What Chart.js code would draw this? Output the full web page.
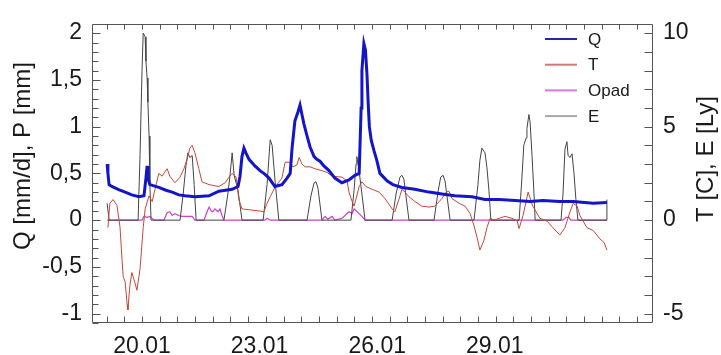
<!DOCTYPE html>
<html>
<head>
<meta charset="utf-8">
<script src="https://cdn.jsdelivr.net/npm/chart.js@4.4.0/dist/chart.umd.min.js"></script>
<style>
  html, body { margin: 0; padding: 0; background: #fff; }
  #wrap { width: 721px; height: 355px; }
</style>
</head>
<body>
<div id="wrap"><canvas id="myChart" width="721" height="355"></canvas></div>
<script>
//////////////////////////////
/////////Data to Chart////////
//////////////////////////////

// x axis is in days (20 = 20.01)
var xLabelDays = [20, 23, 26, 29];
var xLabelText = ['20.01', '23.01', '26.01', '29.01'];
var leftTicks = [-1, -0.5, 0, 0.5, 1, 1.5, 2];
var rightTicks = [-5, 0, 5, 10];

// Q [mm/d] - left axis
var qDay = [19.11,19.13,19.16,19.23,19.39,19.57,19.74,19.92,20.05,20.10,20.13,20.15,20.20,20.43,20.61,20.77,20.94,21.10,21.35,21.71,21.96,22.30,22.45,22.50,22.55,22.60,22.65,22.73,22.88,23.01,23.14,23.24,23.39,23.57,23.70,23.78,23.83,23.90,23.98,24.03,24.08,24.13,24.21,24.29,24.39,24.46,24.54,24.64,24.77,24.92,25.10,25.28,25.43,25.54,25.59,25.61,25.66,25.70,25.74,25.77,25.80,25.85,25.92,25.99,26.07,26.25,26.40,26.63,26.96,27.32,27.65,27.98,28.42,28.75,29.11,29.52,29.90,30.23,30.66,31.00,31.51,31.86];
var qVal = [0.60,0.50,0.38,0.36,0.33,0.30,0.27,0.25,0.26,0.45,0.58,0.45,0.38,0.35,0.32,0.30,0.27,0.26,0.25,0.26,0.31,0.33,0.36,0.47,0.68,0.77,0.72,0.65,0.58,0.53,0.49,0.45,0.36,0.38,0.45,0.50,0.78,1.06,1.16,1.23,1.13,1.03,0.90,0.78,0.68,0.65,0.63,0.58,0.53,0.45,0.40,0.43,0.48,0.50,1.20,1.60,1.89,1.82,1.55,1.25,1.00,0.85,0.74,0.64,0.50,0.42,0.38,0.35,0.33,0.30,0.28,0.26,0.25,0.22,0.22,0.21,0.20,0.21,0.20,0.20,0.18,0.19];

// T [C] - right axis
var tDay = [19.13,19.18,19.26,19.36,19.44,19.49,19.52,19.57,19.62,19.64,19.69,19.74,19.82,19.87,19.95,20.03,20.08,20.18,20.26,20.33,20.43,20.51,20.64,20.71,20.84,20.97,21.07,21.15,21.22,21.28,21.35,21.45,21.53,21.71,21.96,22.12,22.22,22.30,22.40,22.47,22.55,22.76,22.96,23.11,23.19,23.27,23.39,23.57,23.65,23.75,23.85,23.95,24.01,24.08,24.16,24.29,24.41,24.59,24.72,24.85,25.10,25.23,25.28,25.36,25.41,25.48,25.54,25.61,25.71,25.87,26.05,26.20,26.38,26.45,26.56,26.63,26.71,26.81,26.96,27.14,27.32,27.47,27.65,27.76,27.83,27.91,28.09,28.24,28.37,28.47,28.55,28.62,28.72,28.80,28.88,28.98,29.11,29.26,29.44,29.57,29.62,29.72,29.85,29.97,30.15,30.33,30.48,30.66,30.79,30.92,31.00,31.10,31.17,31.35,31.51,31.68,31.79,31.86];
var tVal = [-0.4,0.9,1.1,0.8,-0.4,-2.1,-3.0,-3.3,-4.5,-4.8,-3.5,-2.8,-3.35,-3.75,-2.6,-0.4,0.6,1.3,1.0,1.65,2.5,2.35,2.75,2.35,2.0,2.3,2.75,3.25,3.85,4.0,3.6,2.75,2.05,1.9,1.8,2.0,2.3,2.5,2.3,1.1,0.6,0.55,0.5,0.45,0.9,1.25,1.75,2.25,3.1,3.1,2.85,2.95,3.35,3.0,2.85,2.85,2.75,2.65,2.55,2.35,2.3,2.1,1.5,1.0,0.75,1.3,1.8,2.05,1.8,1.65,1.5,1.15,0.6,0.45,1.15,1.65,1.5,1.25,1.0,0.75,0.7,0.75,1.15,1.5,1.55,1.15,0.9,0.75,0.35,-0.3,-0.95,-1.6,-1.1,-0.4,0.1,0.0,0.1,0.2,0.1,-0.05,-0.45,0.25,1.5,0.75,0.1,-0.05,-0.4,-0.8,-0.4,0.45,0.9,0.75,0.25,-0.4,-0.55,-1.0,-1.2,-1.6];

// Opad (P) [mm] - left axis
var pDay = [19.11,20.00,20.05,20.13,20.20,20.31,20.56,20.64,20.71,20.77,20.84,20.94,21.02,21.20,21.28,21.35,21.58,21.66,21.71,21.76,21.81,21.86,21.94,21.99,22.04,22.09,23.14,23.19,23.27,24.59,24.67,24.74,24.85,24.92,25.10,25.18,25.28,25.36,25.41,25.46,25.54,25.61,25.69,30.74,30.82,30.89,30.94,31.86];
var pVal = [0,0,0.04,0.03,0.04,0,0,0.08,0.09,0.05,0.07,0.05,0.04,0.04,0.04,0,0,0.09,0.14,0.10,0.09,0.12,0.09,0.12,0.05,0,0,0.02,0,0,0.04,0.01,0.04,0,0.02,0.05,0.09,0.07,0.12,0.10,0.07,0.04,0,0,0.03,0.03,0,0];

// E [Ly] - right axis
var eDay = [19.11,19.16,19.90,19.95,20.00,20.03,20.08,20.10,20.13,20.15,20.18,20.20,20.23,20.97,21.05,21.12,21.17,21.22,21.28,21.33,21.38,22.09,22.19,22.24,22.30,22.35,22.45,22.55,23.09,23.19,23.27,23.32,23.39,23.49,24.21,24.31,24.39,24.44,24.49,24.59,25.33,25.41,25.46,25.48,25.54,25.61,25.69,26.38,26.48,26.58,26.63,26.68,26.81,27.45,27.55,27.62,27.68,27.73,27.86,28.47,28.57,28.62,28.67,28.75,28.80,28.85,28.90,29.62,29.69,29.74,29.80,29.82,29.87,29.90,29.95,30.00,30.03,30.69,30.74,30.79,30.84,30.87,30.92,30.97,31.02,31.07,31.12,31.84,31.86];
var eVal = [0.9,0,0,3.5,8.0,10.0,9.8,8.5,7.6,6.3,4.5,2.0,0,0,1.4,2.9,3.6,3.35,3.45,1.9,0,0,1.4,2.3,3.6,2.4,1.6,0,0,1.9,4.3,4.0,2.2,0,0,1.3,2.0,2.05,1.7,0,0,1.6,3.0,3.4,2.6,1.4,0,0,1.4,2.3,2.4,2.2,0,0,1.5,2.3,2.4,2.1,0,0,1.9,3.2,3.85,3.6,2.8,1.6,0,0,2.2,4.0,4.4,4.9,5.65,5.25,3.45,1.4,0,0,1.4,3.8,4.2,3.45,3.35,3.55,2.5,1.1,0,0,1.1];

// Legend entries (drawn inside the plot)
var legendNames = ['Q', 'T', 'Opad', 'E'];
var legendColors = ['#2626a6', '#cc7a78', '#d47ad8', '#a8a8a8'];

// minor ticks along the time axis
var X_MINOR_START = 19.1;
var X_MINOR_STEP = 0.451;
var X_MINOR_COUNT = 31;

var FONT = "'Liberation Sans', Arial, sans-serif";

function pts(days, vals) {
  return days.map(function (d, i) { return { x: d, y: vals[i] }; });
}

// Frame, inward tick marks, titles and legend
var framePlugin = {
  id: 'frame',
  afterDraw: function (chart) {
    var ctx = chart.ctx;
    var a = chart.chartArea;
    var xs = chart.scales.x, yl = chart.scales.yL, yr = chart.scales.yR;
    var L = Math.round(a.left) + 0.5, R = Math.round(a.right) - 0.5;
    var T = Math.round(a.top) + 0.5, B = Math.round(a.bottom) - 0.5;
    ctx.save();
    ctx.strokeStyle = '#555';
    ctx.lineWidth = 1;
    ctx.beginPath();
    ctx.rect(L, T, R - L, B - T);
    // bottom + top ticks
    for (var k = 0; k < X_MINOR_COUNT; k++) {
      var px = Math.round(xs.getPixelForValue(X_MINOR_START + k * X_MINOR_STEP)) + 0.5;
      ctx.moveTo(px, B); ctx.lineTo(px, B - 6);
      ctx.moveTo(px, T); ctx.lineTo(px, T + 5);
    }
    // left ticks every 0.1
    for (var v = -11; v <= 21; v++) {
      var py = Math.round(yl.getPixelForValue(v / 10)) + 0.5;
      var len = (v % 5 === 0) ? 8 : 6;
      ctx.moveTo(L, py); ctx.lineTo(L + len, py);
    }
    // right ticks every 1
    for (var w = -5; w <= 10; w++) {
      var ry = Math.round(yr.getPixelForValue(w)) + 0.5;
      ctx.moveTo(R, ry); ctx.lineTo(R - 8, ry);
    }
    ctx.stroke();

    // axis titles (both read bottom to top)
    ctx.fillStyle = '#1a1a1a';
    ctx.font = '24px ' + FONT;
    ctx.textAlign = 'center';
    ctx.textBaseline = 'middle';
    ctx.save();
    ctx.translate(23, 156);
    ctx.rotate(-Math.PI / 2);
    ctx.fillText('Q [mm/d], P [mm]', 0, 0);
    ctx.restore();
    ctx.save();
    ctx.translate(706, 159);
    ctx.rotate(-Math.PI / 2);
    ctx.fillText('T [C], E [Ly]', 0, 0);
    ctx.restore();

    // legend
    ctx.font = '17px ' + FONT;
    ctx.textAlign = 'left';
    for (var i = 0; i < legendNames.length; i++) {
      var ly = 39 + i * 25.7;
      ctx.strokeStyle = legendColors[i];
      ctx.lineWidth = 2;
      ctx.beginPath();
      ctx.moveTo(545, ly); ctx.lineTo(577, ly);
      ctx.stroke();
      ctx.fillText(legendNames[i], 588, ly + 1);
    }
    ctx.restore();
  }
};

var myChart = new Chart(document.getElementById('myChart'), {
  type: 'line',
  data: {
    datasets: [
      { label: 'Q', data: pts(qDay, qVal), yAxisID: 'yL', borderColor: '#1414c8', borderWidth: 3, pointRadius: 0, order: 0 },
      { label: 'T', data: pts(tDay, tVal), yAxisID: 'yR', borderColor: '#c4483a', borderWidth: 1, pointRadius: 0, order: 1 },
      { label: 'E', data: pts(eDay, eVal), yAxisID: 'yR', borderColor: '#444', borderWidth: 1, pointRadius: 0, order: 2 },
      { label: 'Opad', data: pts(pDay, pVal), yAxisID: 'yL', borderColor: '#cc40cc', borderWidth: 1.2, pointRadius: 0, order: 3 }
    ]
  },
  options: {
    responsive: false,
    animation: false,
    devicePixelRatio: 1,
    layout: { padding: { top: 13, left: 0, right: 0, bottom: 0 } },
    plugins: { legend: { display: false }, tooltip: { enabled: false } },
    scales: {
      x: {
        type: 'linear',
        position: 'bottom',
        min: 18.724,
        max: 33.036,
        grid: { display: false, drawTicks: false },
        border: { display: false },
        afterBuildTicks: function (s) {
          s.ticks = xLabelDays.map(function (d) { return { value: d }; });
        },
        afterFit: function (s) { s.height = 32; },
        ticks: {
          autoSkip: false,
          maxRotation: 0,
          padding: 10,
          color: '#1a1a1a',
          font: { family: FONT, size: 23 },
          callback: function (v) {
            var i = xLabelDays.indexOf(v);
            return i >= 0 ? xLabelText[i] : '';
          }
        }
      },
      yL: {
        position: 'left',
        min: -1.1,
        max: 2.1,
        grid: { display: false, drawTicks: false },
        border: { display: false },
        afterBuildTicks: function (s) {
          s.ticks = leftTicks.map(function (v) { return { value: v }; });
        },
        afterFit: function (s) { s.width = 92; },
        ticks: {
          padding: 10,
          color: '#1a1a1a',
          font: { family: FONT, size: 23 },
          callback: function (v) { return String(v).replace('.', ','); }
        }
      },
      yR: {
        position: 'right',
        min: -5.5,
        max: 10.5,
        grid: { display: false, drawTicks: false },
        border: { display: false },
        afterBuildTicks: function (s) {
          s.ticks = rightTicks.map(function (v) { return { value: v }; });
        },
        afterFit: function (s) { s.width = 68; },
        ticks: {
          padding: 10,
          color: '#1a1a1a',
          font: { family: FONT, size: 23 }
        }
      }
    }
  },
  plugins: [framePlugin]
});
</script>
</body>
</html>
